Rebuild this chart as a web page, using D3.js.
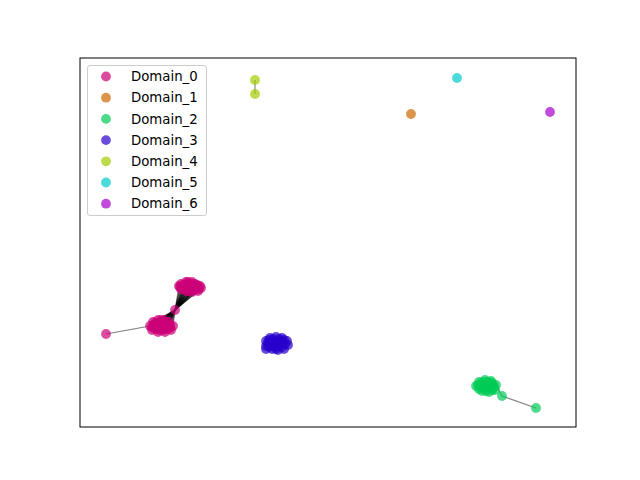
<!DOCTYPE html>
<html><head><meta charset="utf-8">
<script src="https://cdn.jsdelivr.net/npm/d3@7"></script>
<style>body{margin:0;background:#fff}svg{display:block}</style>
</head><body>
<svg id="c" width="640" height="480"></svg>
<script>
// Domain names and colours
const domains = ["Domain_0","Domain_1","Domain_2","Domain_3","Domain_4","Domain_5","Domain_6"];
const domainColors = ["#cc0077","#cc6a00","#00cc55","#2a00cc","#a3cc00","#00cccc","#a700cc"];

// Node layout positions (x, y, domain index)
const nodesX = [
  101,106,112,117,121,118,112,106,101,99,109,114,104,110,116,
  95,
  70,73,78,84,89,93,91,85,78,72,81,86,76,82,
  26,
  331,
  396,399,405,411,416,415,409,402,406,410,401,
  422,456,
  186,190,196,202,207,208,204,198,192,186,195,200,191,186,196,
  175,175,
  377,
  470,
  // denser cluster cores
  103,108,113,118,103,107,111,115,119,105,109,113,100,120,115,108,111,106,
  74,77,80,83,87,90,90,87,83,79,75,72,79,84,88,81,86,75,
  398,401,404,408,412,414,412,406,399,403,407,404,409,413,
  188,189,193,199,204,205,202,196,189,193,199,197,202,190,194
];
const nodesY = [
  143,145,145,142,139,136,135,136,138,141,141,140,140,138,139,
  117,
  101,105,107,107,105,101,97,95,95,97,101,101,100,98,
  93,
  313,
  41,45,47,46,42,37,35,36,41,40,40,
  31,19,
  86,89,90,89,86,82,78,77,78,81,83,84,84,78,80,
  347,333,
  349,
  315,
  142,143,143,141,139,139,139,137,138,137,136,137,140,141,143,145,141,141,
  102,104,105,104,103,102,99,98,97,97,98,100,102,100,101,107,105,104,
  42,44,45,45,44,40,37,36,38,39,38,42,42,42,
  84,87,88,88,87,83,80,78,80,81,81,86,85,82,85
];
const nodesDomain = [
  0,0,0,0,0,0,0,0,0,0,0,0,0,0,0,
  0,
  0,0,0,0,0,0,0,0,0,0,0,0,0,0,
  0,
  1,
  2,2,2,2,2,2,2,2,2,2,2,
  2,2,
  3,3,3,3,3,3,3,3,3,3,3,3,3,3,3,
  4,4,
  5,
  6,
  0,0,0,0,0,0,0,0,0,0,0,0,0,0,0,0,0,0,
  0,0,0,0,0,0,0,0,0,0,0,0,0,0,0,0,0,0,
  2,2,2,2,2,2,2,2,2,2,2,2,2,2,
  3,3,3,3,3,3,3,3,3,3,3,3,3,3,3
];
// Edges (source index, target index)
const edgeSrc = [15,15,15,15,15,15,15,15,15,15,15,15,15,15,15,
                 15,15,15,15,15,15,15,15,15,15,15,15,15,15,
                 15,15,15,15,15,15,15,15,15,15,15,15,15,15,15,15,15,15,
                 15,15,15,15,15,15,15,15,15,15,15,15,
                 30, 43, 43, 60, 0,1,2,3,4, 16,17,18,19,20, 32,33,34,35, 45,46,47,48];
const edgeDst = [0,1,2,3,4,5,6,7,8,9,10,11,12,13,14,
                 16,17,18,19,20,21,22,23,24,25,26,27,28,29,
                 64,65,66,67,68,69,70,71,72,73,74,75,76,77,78,79,80,81,
                 82,83,84,85,86,87,88,89,90,91,92,93,
                 16, 44, 36, 61, 10,11,12,13,14, 26,27,28,29,21, 40,41,39,38, 55,56,57,58];

const pl = 80, pr = 576, pt = 58, pb = 427;
const svg = d3.select("#c");
const x = d3.scaleLinear().domain([0, 496]).range([pl, pr]);
const y = d3.scaleLinear().domain([0, 369]).range([pb, pt]);
const color = d3.scaleOrdinal().domain(d3.range(domains.length)).range(domainColors);

const nodes = nodesX.map((v, i) => ({x: v, y: nodesY[i], d: nodesDomain[i]}));
const edges = edgeSrc.map((s, i) => ({s: nodes[s], t: nodes[edgeDst[i]]}));

svg.append("g").selectAll("line").data(edges).join("line")
  .attr("x1", e => x(e.s.x)).attr("y1", e => y(e.s.y))
  .attr("x2", e => x(e.t.x)).attr("y2", e => y(e.t.y))
  .attr("stroke", "#000").attr("stroke-opacity", 0.5).attr("stroke-width", 1.1);

svg.append("g").selectAll("circle").data(nodes).join("circle")
  .attr("cx", n => x(n.x)).attr("cy", n => y(n.y)).attr("r", 4.9)
  .attr("fill", n => color(n.d)).attr("fill-opacity", 0.7);

// frame
svg.append("rect").attr("x", pl).attr("y", pt)
  .attr("width", pr - pl).attr("height", pb - pt)
  .attr("fill", "none").attr("stroke", "#000").attr("stroke-width", 1);

// legend
const lg = svg.append("g").attr("transform", "translate(87.5,65.5)");
lg.append("rect").attr("width", 119).attr("height", 150).attr("rx", 2.5)
  .attr("fill", "#fff").attr("fill-opacity", 0.8).attr("stroke", "#ccc");
const items = lg.selectAll("g.it").data(domains).join("g")
  .attr("transform", (d, i) => `translate(0,${11 + i * 21.2})`);
items.append("circle").attr("cx", 18.5).attr("cy", 0).attr("r", 4.9)
  .attr("fill", (d, i) => color(i)).attr("fill-opacity", 0.7);
items.append("text").attr("x", 43.5).attr("y", 0).attr("dy", "0.35em")
  .attr("font-family", "DejaVu Sans").attr("font-size", 13.3).attr("fill", "#000")
  .text(d => d);
</script>
</body></html>
